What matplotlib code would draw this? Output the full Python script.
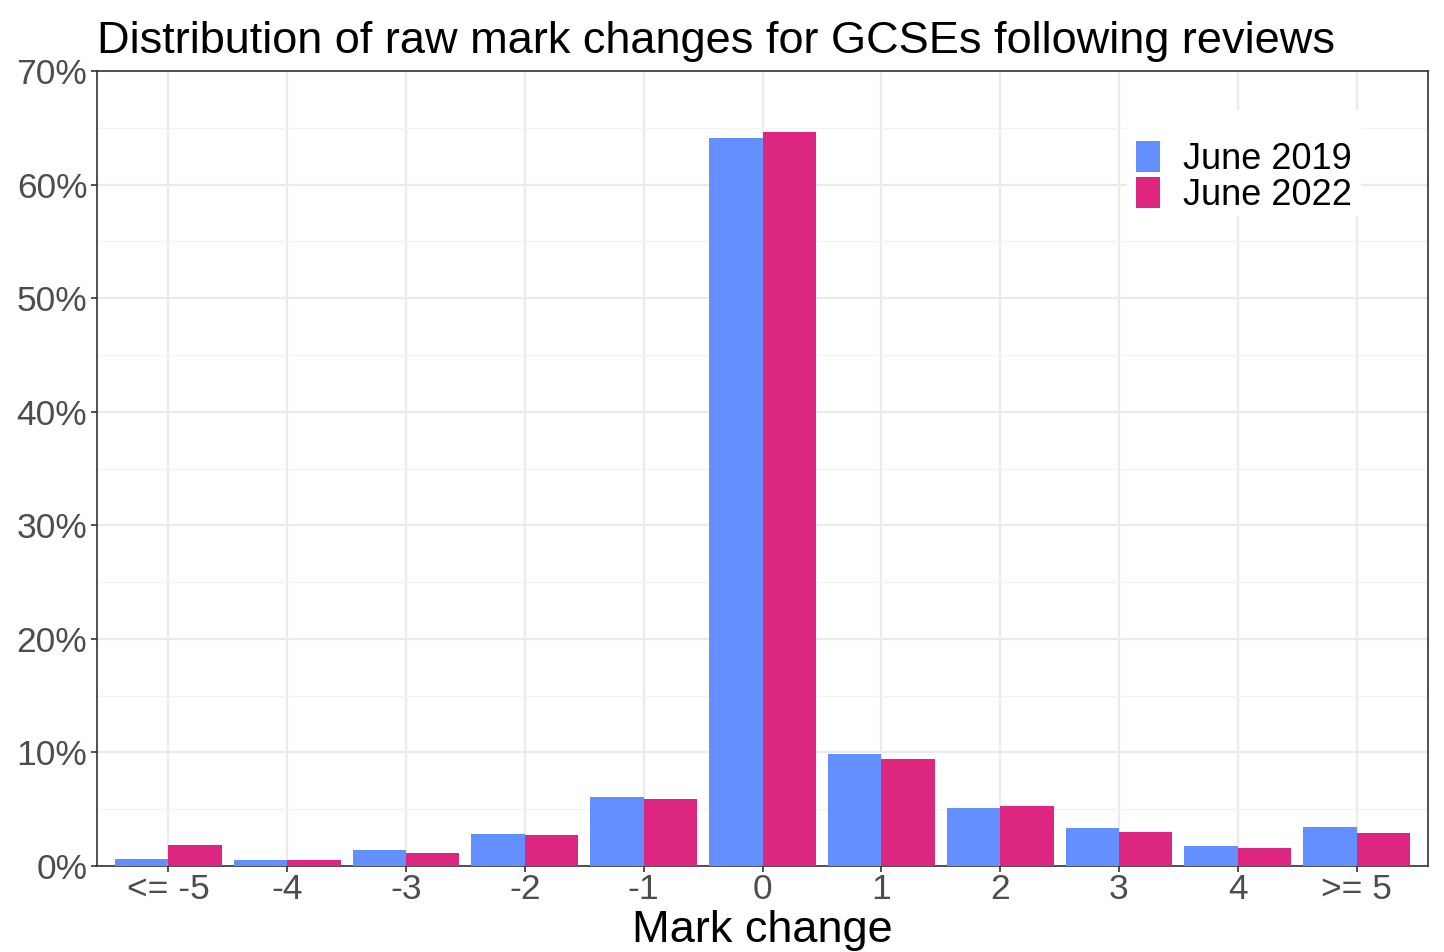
import numpy as np
import matplotlib.pyplot as plt
from matplotlib.patches import Rectangle
from matplotlib.ticker import MultipleLocator, FuncFormatter

plt.rcParams['font.family'] = ['Liberation Sans', 'DejaVu Sans']

categories = ['<= -5', '-4', '-3', '-2', '-1', '0', '1', '2', '3', '4', '>= 5']
june_2019 = [0.65, 0.53, 1.43, 2.84, 6.04, 64.1, 9.89, 5.13, 3.31, 1.73, 3.43]
june_2022 = [1.85, 0.55, 1.14, 2.75, 5.93, 64.6, 9.45, 5.25, 3.02, 1.61, 2.93]

blue = '#648FFF'
pink = '#DC267F'

fig = plt.figure(figsize=(14.44, 9.52), dpi=100)
ax = fig.add_axes([97/1444, 1 - 866/952, (1428-97)/1444, (866-71)/952])

x = np.arange(len(categories))
w = 0.45
ax.bar(x - w/2, june_2019, width=w, color=blue, label='June 2019', zorder=3)
ax.bar(x + w/2, june_2022, width=w, color=pink, label='June 2022', zorder=3)

ax.set_xlim(-0.6, len(categories) - 0.4)
ax.set_ylim(0, 70)
ax.set_xticks(x)
ax.set_xticklabels(categories)
ax.yaxis.set_major_locator(MultipleLocator(10))
ax.yaxis.set_minor_locator(MultipleLocator(5))
ax.yaxis.set_major_formatter(FuncFormatter(lambda v, p: f'{v:.0f}%'))

ax.grid(True, which='major', color='#EBEBEB', linewidth=1.6, zorder=0)
ax.grid(True, which='minor', axis='y', color='#F3F3F3', linewidth=0.9, zorder=0)
ax.set_axisbelow(True)

for s in ax.spines.values():
    s.set_color('#333333')
    s.set_linewidth(1.2)

ax.tick_params(axis='both', which='major', labelsize=25.5, colors='#4D4D4D',
               length=4, width=1.2, pad=3)
ax.tick_params(axis='both', which='major', color='#333333')
ax.tick_params(axis='both', which='minor', length=0)
ax.tick_params(axis='x', pad=1)

ax.set_xlabel('Mark change', fontsize=32.5, labelpad=3)
ax.set_title('Distribution of raw mark changes for GCSEs following reviews',
             fontsize=32.5, loc='left', pad=13, x=0.0)

# white legend background box
ax.add_patch(Rectangle((0.7739, 0.8176), 0.9497 - 0.7739, 0.9509 - 0.8176,
                       transform=ax.transAxes, facecolor='white',
                       edgecolor='none', zorder=2))

leg = ax.legend(loc='upper left', bbox_to_anchor=(0.7806, 0.9119), fontsize=26,
                frameon=False, borderpad=0, borderaxespad=0,
                handlelength=0.667, handleheight=0.95, handletextpad=0.64,
                labelspacing=0.0)
leg.set_zorder(4)

fig.savefig('out.png', dpi=100)
